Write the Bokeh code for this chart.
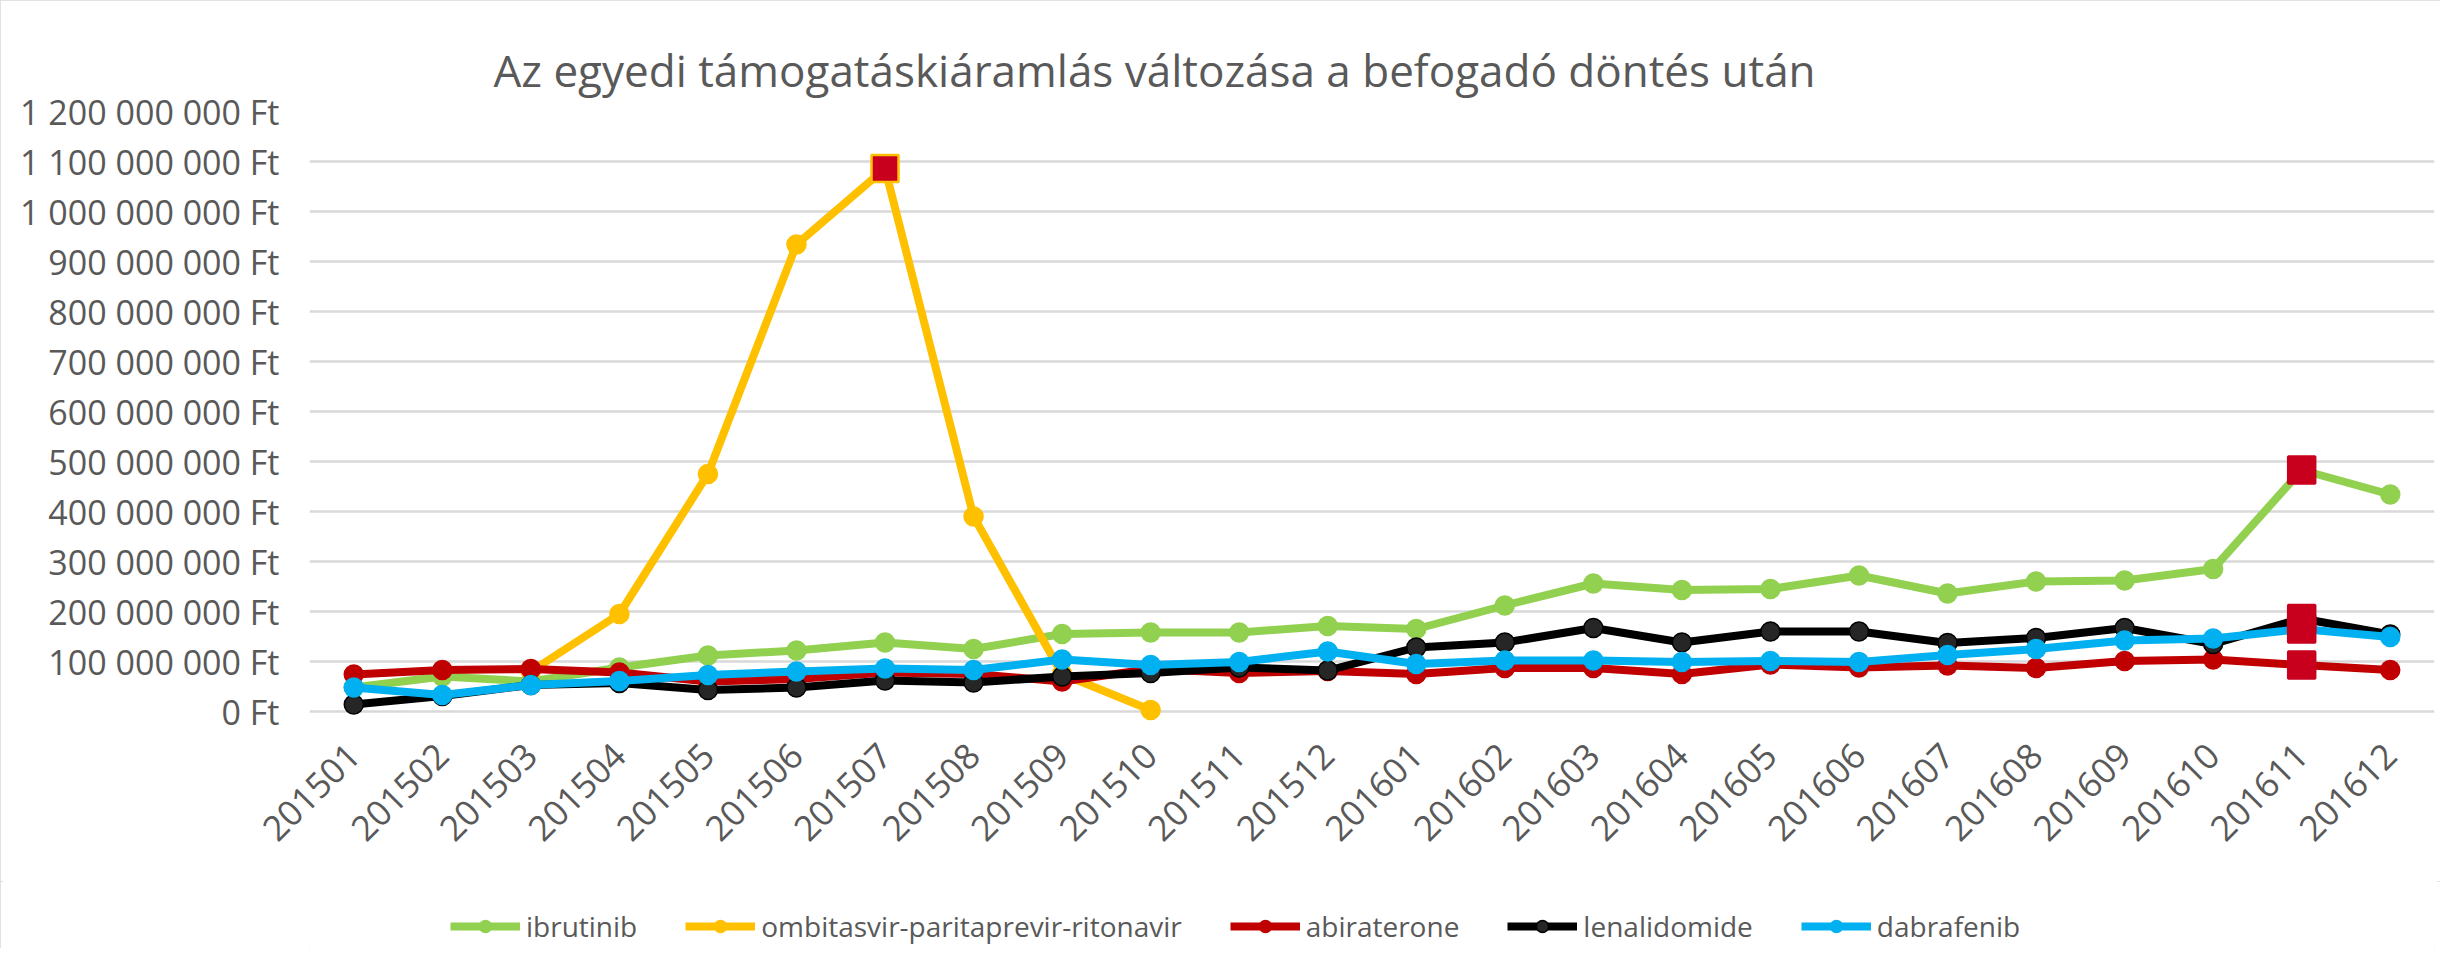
import math
import numpy as np
from bokeh.plotting import figure
from bokeh.layouts import column
from bokeh.models import (FactorRange, Range1d, FixedTicker, Legend, LegendItem)
from bokeh.embed import file_html
from bokeh.resources import INLINE

# ---------------- data ----------------
months = ["201501", "201502", "201503", "201504", "201505", "201506",
          "201507", "201508", "201509", "201510", "201511", "201512",
          "201601", "201602", "201603", "201604", "201605", "201606",
          "201607", "201608", "201609", "201610", "201611", "201612"]

nan = float("nan")
ibrutinib = [48, 70, 60, 88, 112, 122, 138, 125, 155, 158, 158, 171,
             165, 212, 256, 243, 245, 272, 236, 260, 262, 285, 483, 434]
ombitasvir = [nan, nan, 80, 195, 475, 934, 1086, 390, 75, 3, nan, nan,
              nan, nan, nan, nan, nan, nan, nan, nan, nan, nan, nan, nan]
abiraterone = [74, 83, 85, 78, 60, 65, 78, 75, 60, 85, 77, 81,
               75, 87, 87, 75, 94, 88, 92, 87, 101, 104, 93, 83]
lenalidomide = [14, 31, 53, 57, 43, 48, 62, 58, 70, 77, 88, 82,
                128, 138, 167, 138, 160, 160, 137, 147, 167, 135, 186, 154]
dabrafenib = [48, 33, 53, 61, 73, 80, 86, 83, 104, 93, 99, 120,
              95, 102, 102, 99, 101, 99, 113, 125, 142, 146, 165, 149]
unit = 1_000_000  # values above are in million Ft

series_names = ["ibrutinib", "ombitasvir-paritaprevir-ritonavir",
                "abiraterone", "lenalidomide", "dabrafenib"]
series_values = [ibrutinib, ombitasvir, abiraterone, lenalidomide, dabrafenib]
series_colors = ["#92D050", "#FFC000", "#C00000", "#000000", "#00B0F0"]
marker_fills = ["#92D050", "#FFC000", "#C00000", "#262626", "#00B0F0"]

# highlighted points (series index, month)
highlight_series = [1, 0, 3, 4, 2]
highlight_months = ["201507", "201611", "201611", "201611", "201611"]

y_ticks = list(range(0, 1_200_000_001, 100_000_000))
y_labels = {t: f"{t:,}".replace(",", " ") + " Ft" for t in y_ticks}

title_text = "Az egyedi támogatáskiáramlás változása a befogadó döntés után"

# ---------------- main figure ----------------
FONT = "Open Sans"
TXT = "#595959"
W = 2440
H_MAIN = 881
H_LEG = 67

p = figure(width=W, height=H_MAIN, output_backend="svg", toolbar_location=None,
           x_range=FactorRange(factors=months, range_padding=0),
           y_range=Range1d(-40_000_000, 1_200_000_000),
           min_border_left=309, min_border_right=6, min_border_top=111,
           min_border_bottom=150, background_fill_color="white",
           border_fill_color="white", outline_line_color=None)

p.title.text = title_text
p.title.text_font = FONT
p.title.text_font_size = "44px"
p.title.text_font_style = "normal"
p.title.text_color = TXT
p.title.align = "left"
p.title.offset = 184
p.title.standoff = 24

p.xgrid.grid_line_color = None
p.ygrid.grid_line_color = "#d9d9d9"
p.ygrid.grid_line_width = 2.5
p.ygrid.ticker = FixedTicker(ticks=y_ticks)

p.yaxis.ticker = FixedTicker(ticks=y_ticks)
p.yaxis.major_label_overrides = y_labels
p.yaxis.axis_line_color = None
p.yaxis.major_tick_line_color = None
p.yaxis.minor_tick_line_color = None
p.yaxis.major_tick_out = 0
p.yaxis.major_label_standoff = 30
p.yaxis.major_label_text_font = FONT
p.yaxis.major_label_text_font_size = "34px"
p.yaxis.major_label_text_color = TXT

p.xaxis.axis_line_color = None
p.xaxis.major_tick_line_color = None
p.xaxis.major_tick_out = 0
p.xaxis.major_label_orientation = math.pi / 4
p.xaxis.major_label_standoff = 18
p.xaxis.major_label_text_font = FONT
p.xaxis.major_label_text_font_size = "35px"
p.xaxis.major_label_text_color = TXT

for vals, col, mf in zip(series_values, series_colors, marker_fills):
    y = np.array(vals, dtype=float) * unit
    p.line(x=months, y=y, line_color=col, line_width=8, line_join="round")
    p.scatter(x=months, y=y, marker="circle", size=19, fill_color=mf,
              line_color=col, line_width=1.5)

hx = highlight_months
hy = [series_values[s][months.index(m)] * unit for s, m in zip(highlight_series, highlight_months)]
hl_line = ["#FFC000" if s == 1 else "#C8001E" for s in highlight_series]
p.scatter(x=hx, y=hy, marker="square", size=27, fill_color="#C8001E",
          line_color=hl_line, line_width=2.5)

# ---------------- legend strip ----------------
pl = figure(width=W, height=H_LEG, output_backend="svg", toolbar_location=None,
            x_range=Range1d(0, 1), y_range=Range1d(0, 1),
            min_border=0, background_fill_color="white",
            border_fill_color="white", outline_line_color=None)
pl.axis.visible = False
pl.grid.visible = False

items = []
for name, col, mf in zip(series_names, series_colors, marker_fills):
    # off-range points: only the legend glyph is shown
    ln = pl.line(x=[-5, -4], y=[-5, -4], line_color=col, line_width=8)
    sc = pl.scatter(x=[-5], y=[-5], marker="circle", size=19, fill_color=mf,
                    line_color=col, line_width=1.5)
    items.append(LegendItem(label=name, renderers=[ln, sc]))

legend = Legend(items=items, orientation="horizontal", location=(141, 3),
                padding=0, margin=0, spacing=48, glyph_width=70, glyph_height=30,
                label_standoff=6, label_height=30,
                label_text_font=FONT, label_text_font_size="28px",
                label_text_color=TXT, border_line_color=None,
                background_fill_alpha=0)
pl.add_layout(legend, "center")

layout = column(p, pl, spacing=0,
                styles={"outline": "3px solid #d9d9d9", "outline-offset": "-3px"})

open("out.html", "w").write(file_html(layout, INLINE))
